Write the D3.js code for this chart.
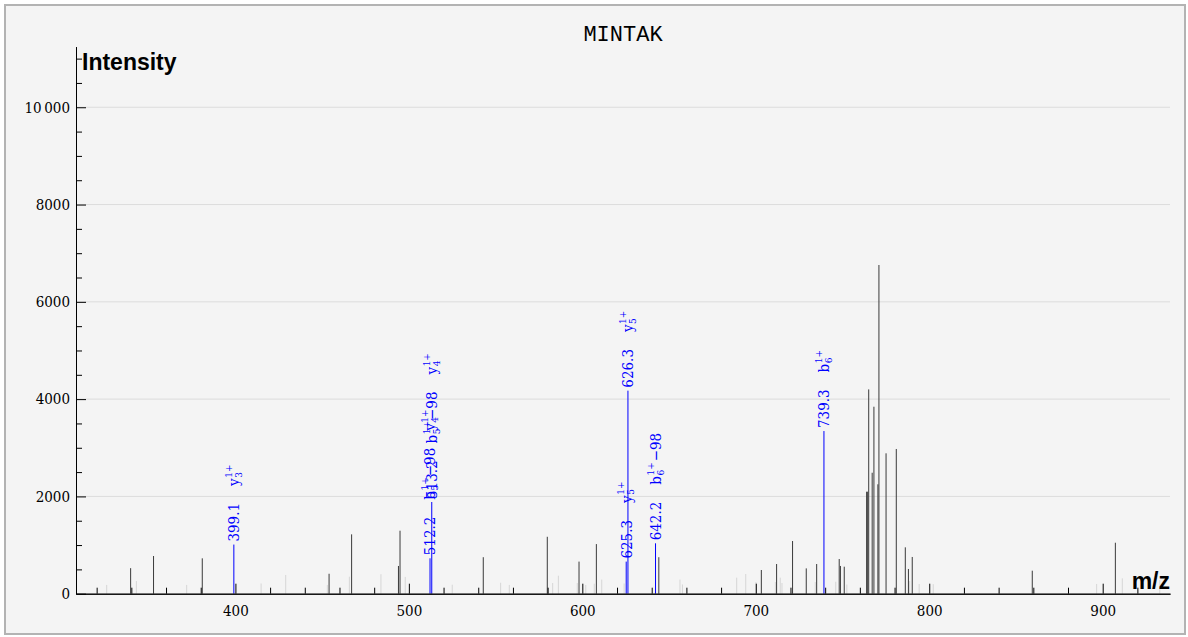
<!DOCTYPE html>
<html>
<head>
<meta charset="utf-8">
<script src="https://cdn.jsdelivr.net/npm/d3@7"></script>
<style>
  html, body { margin: 0; padding: 0; background: #ffffff; }
  svg { display: block; }
</style>
</head>
<body>
<svg id="chart" width="1188" height="637"></svg>
<script>
// ---------------- data ----------------
const title = "MINTAK";

// unannotated peaks (m/z, intensity, class)
const peakMz = [325.8, 339.6, 342.9, 352.8, 371.9, 380.9, 414.8, 429.0, 453.0, 454.0,
  465.7, 467.0, 483.9, 494.0, 494.9, 497.9, 525.0, 542.9, 552.9, 557.9,
  579.8, 582.9, 586.2, 597.1, 598.1, 602.0, 606.9, 608.1, 611.2, 624.1,
  644.1, 656.3, 657.7, 689.0, 694.2, 700.1, 703.2, 711.3, 712.0, 714.1,
  715.1, 721.2, 729.1, 734.3, 735.1, 746.1, 748.1, 748.8, 751.0, 752.5,
  763.9, 764.5, 765.1, 767.1, 768.1, 770.4, 771.0, 775.1, 781.0, 786.2,
  788.0, 788.7, 790.2, 794.2, 802.3, 859.4, 896.5, 907.3, 911.3, 932.9];
const peakIntensity = [180, 525, 260, 775, 180, 727, 210, 385, 180, 410,
  350, 1220, 400, 570, 1295, 345, 185, 750, 225, 180,
  1170, 220, 370, 220, 660, 180, 205, 1020, 290, 210,
  750, 290, 190, 330, 405, 240, 487, 240, 610, 330,
  220, 1083, 520, 240, 610, 245, 713, 570, 555, 188,
  2097, 2097, 4200, 2487, 3844, 2249, 6757, 2886, 2975, 953,
  508, 260, 755, 200, 195, 473, 200, 1048, 316, 280];
const peakClass = ["faint", "main", "faint", "main", "faint", "main", "faint", "faint", "faint", "main",
  "faint", "main", "faint", "main", "main", "faint", "faint", "main", "faint", "faint",
  "main", "faint", "faint", "faint", "main", "faint", "faint", "main", "faint", "faint",
  "main", "faint", "faint", "faint", "faint", "faint", "main", "faint", "main", "faint",
  "faint", "main", "main", "faint", "main", "faint", "main", "main", "main", "faint",
  "main", "main", "main", "main", "main", "main", "main", "main", "main", "main",
  "main", "faint", "main", "faint", "faint", "main", "faint", "main", "faint", "faint"];

// annotated (matched) peaks
const annotMz = [399.1, 512.2, 513.2, 625.3, 626.3, 642.2, 739.3];
const annotIntensity = [1010, 728, 1885, 660, 4174, 1036, 3344];
// ion labels: [ion letter, subscript, superscript, suffix]
const annotIons = [
  [["y", "3", "1+", ""]],
  [["b", "5", "1+", "\u221298"], ["y", "4", "1+", ""]],
  [["b", "5", "1+", "\u221298"], ["y", "4", "1+", ""]],
  [["y", "5", "1+", ""]],
  [["y", "5", "1+", ""]],
  [["b", "6", "1+", "\u221298"]],
  [["b", "6", "1+", ""]]
];

// axes
const xMajorTicks = [400, 500, 600, 700, 800, 900];
const xTickLabels = ["400", "500", "600", "700", "800", "900"];
const yMajorTicks = [0, 2000, 4000, 6000, 8000, 10000];
const yTickLabels = ["0", "2000", "4000", "6000", "8000", "10\u2009000"];
const xMinorStep = 20;
const yMinorStep = 500;
const xDomain = [308.1, 938.8];
const yDomain = [0, 11245];

// ---------------- drawing ----------------
const SERIF = '"DejaVu Serif Condensed", "DejaVu Serif", serif';
const svg = d3.select("#chart");

// frame
svg.append("rect").attr("x", 5).attr("y", 5).attr("width", 1180).attr("height", 629)
  .attr("fill", "#f4f4f4").attr("stroke", "#b3b3b3").attr("stroke-width", 2);

const L = 76, R = 1170, T = 46.7, B = 593.7;
const x = d3.scaleLinear().domain(xDomain).range([L, R]);
const y = d3.scaleLinear().domain(yDomain).range([B, T]);

// grid
svg.append("g").selectAll("line").data(yMajorTicks.filter(d => d > 0)).join("line")
  .attr("x1", L).attr("x2", R).attr("y1", d => y(d)).attr("y2", d => y(d))
  .attr("stroke", "#dcdcdc").attr("stroke-width", 1);

// title
svg.append("text").attr("x", (L + R) / 2).attr("y", 41).attr("text-anchor", "middle")
  .style("font-family", '"Liberation Mono", "Courier New", monospace').style("font-size", "22px")
  .attr("fill", "#000").text(title);

// peaks
const peaks = peakMz.map((m, i) => ({ mz: m, v: peakIntensity[i], c: peakClass[i] }));
const gPeaks = svg.append("g");
gPeaks.selectAll("line.faint").data(peaks.filter(p => p.c === "faint")).join("line")
  .attr("class", "faint")
  .attr("x1", d => x(d.mz)).attr("x2", d => x(d.mz)).attr("y1", y(0)).attr("y2", d => y(d.v))
  .attr("stroke", "#d6d6d6").attr("stroke-width", 1);
gPeaks.selectAll("line.main").data(peaks.filter(p => p.c === "main")).join("line")
  .attr("class", "main")
  .attr("x1", d => x(d.mz)).attr("x2", d => x(d.mz)).attr("y1", y(0)).attr("y2", d => y(d.v))
  .attr("stroke", "#3a3a3a").attr("stroke-width", 1);

const annots = annotMz.map((m, i) => ({ mz: m, v: annotIntensity[i], ions: annotIons[i] }));
gPeaks.selectAll("line.annot").data(annots).join("line")
  .attr("class", "annot")
  .attr("x1", d => x(d.mz)).attr("x2", d => x(d.mz)).attr("y1", y(0)).attr("y2", d => y(d.v))
  .attr("stroke", "#0000ff").attr("stroke-width", 1);

// axes
const xMinor = d3.range(320, xDomain[1], xMinorStep).filter(d => d % 100 !== 0);
const yMinor = d3.range(yMinorStep, yDomain[1], yMinorStep).filter(d => d % 2000 !== 0);

const axStyle = g => {
  g.selectAll("path.domain").attr("stroke", "#000").attr("stroke-width", 1);
  g.selectAll(".tick line").attr("stroke", "#000").attr("stroke-width", 1);
  g.selectAll(".tick text").style("font-family", SERIF).style("font-stretch", "condensed")
    .style("font-size", "15px").attr("fill", "#000");
};

svg.append("g").attr("transform", `translate(0,${B})`)
  .call(d3.axisBottom(x).tickValues(xMinor).tickSize(-6).tickSizeOuter(0).tickFormat(""))
  .call(axStyle);
svg.append("g").attr("transform", `translate(0,${B})`)
  .call(d3.axisBottom(x).tickValues(xMajorTicks).tickSize(-10).tickSizeOuter(0)
    .tickPadding(11.5).tickFormat((d, i) => xTickLabels[i]))
  .call(axStyle);

svg.append("g").attr("transform", `translate(${L},0)`)
  .call(d3.axisLeft(y).tickValues(yMinor).tickSize(-6).tickSizeOuter(0).tickFormat(""))
  .call(axStyle);
svg.append("g").attr("transform", `translate(${L},0)`)
  .call(d3.axisLeft(y).tickValues(yMajorTicks).tickSize(-10).tickSizeOuter(0)
    .tickPadding(6).tickFormat((d, i) => yTickLabels[i]))
  .call(axStyle);

// axis titles
svg.append("text").attr("x", 82).attr("y", 69.5)
  .style("font-family", '"Liberation Sans", Arial, sans-serif').style("font-weight", "bold")
  .style("font-size", "23px").attr("fill", "#000").text("Intensity");
svg.append("text").attr("x", R).attr("y", 589).attr("text-anchor", "end")
  .style("font-family", '"Liberation Sans", Arial, sans-serif').style("font-weight", "bold")
  .style("font-size", "23px").attr("fill", "#000").text("m/z");

// annotation labels (rotated)
const GAP = 17;
const gLab = svg.append("g").attr("fill", "#0000ff")
  .style("font-family", SERIF).style("font-stretch", "condensed").style("font-size", "15px");
annots.forEach(a => {
  const g = gLab.append("g")
    .attr("transform", `translate(${x(a.mz)},${y(a.v) - 3}) rotate(-90)`);
  let cur = 0;
  const add = (txt, px, yy, size) => {
    const t = g.append("text").attr("x", px).attr("y", yy).attr("dy", "0.36em").text(txt);
    if (size) t.style("font-size", size);
    return t.node().getComputedTextLength();
  };
  cur += add(a.mz.toFixed(1), cur, 0) + GAP;
  a.ions.forEach(ion => {
    const [letter, sub, sup, suffix] = ion;
    cur += add(letter, cur, 0) + 0.5;
    const w1 = add(sup, cur, -5.5, "10px");
    const w2 = add(sub, cur, 4.5, "10px");
    cur += Math.max(w1, w2);
    if (suffix) cur += add(suffix, cur + 1, 0) + 1;
    cur += GAP;
  });
});
</script>
</body>
</html>
